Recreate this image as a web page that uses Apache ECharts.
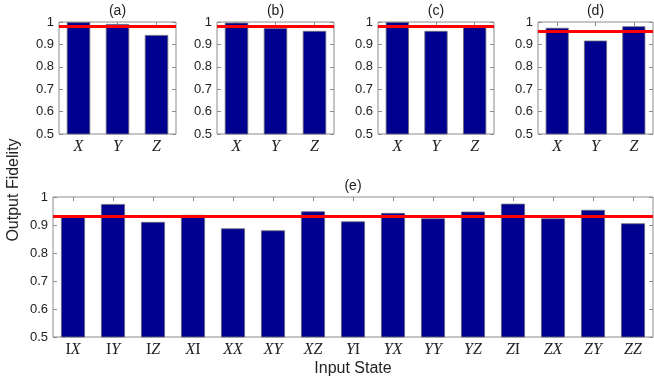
<!DOCTYPE html>
<html>
<head>
    <meta charset="UTF-8">
    <title>Output Fidelity</title>
    <script src="https://cdn.jsdelivr.net/npm/echarts@6/dist/echarts.min.js"></script>
</head>
<body style="margin:0;background:#fff;">
<div id="chart" style="width:654px;height:386px;"></div>
<script type="text/javascript">
    // single-qubit inputs, panels (a)-(d)
    var singleStates = ['X', 'Y', 'Z'];
    var fidelityA = [0.999, 0.991, 0.942];
    var fidelityB = [0.997, 0.973, 0.960];
    var fidelityC = [1.000, 0.960, 0.983];
    var fidelityD = [0.974, 0.917, 0.981];
    // two-qubit inputs, panel (e)
    var pairStates = ['IX', 'IY', 'IZ', 'XI', 'XX', 'XY', 'XZ', 'YI', 'YX', 'YY', 'YZ', 'ZI', 'ZX', 'ZY', 'ZZ'];
    var fidelityE = [0.931, 0.975, 0.911, 0.936, 0.888, 0.881, 0.949, 0.913, 0.943, 0.924, 0.948, 0.976, 0.924, 0.954, 0.906];
    // average fidelity (red line) per panel
    var averages = [0.978, 0.977, 0.981, 0.958, 0.931];
    var panelTitles = ['(a)', '(b)', '(c)', '(d)', '(e)'];
    var yTicks = {min: 0.5, max: 1, step: 0.1};

    var panels = [
        {cats: singleStates, data: fidelityA, box: {left: 59, top: 22, width: 117, height: 112}},
        {cats: singleStates, data: fidelityB, box: {left: 217, top: 22, width: 117, height: 112}},
        {cats: singleStates, data: fidelityC, box: {left: 378, top: 22, width: 116, height: 112}},
        {cats: singleStates, data: fidelityD, box: {left: 538, top: 22, width: 115, height: 112}},
        {cats: pairStates, data: fidelityE, box: {left: 53, top: 197, width: 600, height: 140}}
    ];

    var axisGray = '#8c8c8c';
    var labelRich = {
        i: {fontFamily: 'Liberation Serif', fontStyle: 'italic', fontSize: 16, color: '#222'},
        u: {fontFamily: 'Liberation Serif', fontSize: 16, color: '#222'}
    };
    function stateLabel(s) {
        return s.split('').map(function (c) {
            return c === 'I' ? '{u|I}' : '{i|' + c + '}';
        }).join('');
    }

    var grid = [], xAxis = [], yAxis = [], series = [], graphic = [];
    panels.forEach(function (p, k) {
        grid.push({
            left: p.box.left, top: p.box.top, width: p.box.width, height: p.box.height,
            show: true, borderColor: axisGray, borderWidth: 1, backgroundColor: '#fff'
        });
        xAxis.push({
            type: 'category', gridIndex: k, data: p.cats, position: 'bottom',
            axisLine: {show: false},
            axisTick: {show: false},
            axisLabel: {interval: 0, formatter: stateLabel, rich: labelRich, margin: 5}
        });
        xAxis.push({
            type: 'category', gridIndex: k, data: p.cats, position: 'top',
            axisLine: {show: false},
            axisTick: {show: true, inside: true, length: 4, interval: 0, alignWithLabel: true, lineStyle: {color: axisGray}},
            axisLabel: {show: false}
        });
        yAxis.push({
            type: 'value', gridIndex: k, min: yTicks.min, max: yTicks.max, interval: yTicks.step,
            position: 'left',
            axisLine: {show: false},
            axisTick: {show: true, inside: true, length: 4, lineStyle: {color: axisGray}},
            splitLine: {show: false},
            axisLabel: {fontFamily: 'Liberation Sans', fontSize: 13, color: '#222', margin: 5}
        });
        yAxis.push({
            type: 'value', gridIndex: k, min: yTicks.min, max: yTicks.max, interval: yTicks.step,
            position: 'right',
            axisLine: {show: false},
            axisTick: {show: true, inside: true, length: 4, lineStyle: {color: axisGray}},
            splitLine: {show: false},
            axisLabel: {show: false}
        });
        series.push({
            type: 'bar', xAxisIndex: 2 * k, yAxisIndex: 2 * k, data: p.data,
            barWidth: '60%',
            itemStyle: {color: '#000090', borderColor: '#6a6a7a', borderWidth: 0.8},
            silent: true,
            markLine: {
                silent: true, symbol: 'none', label: {show: false},
                lineStyle: {color: '#ff0000', width: 3, type: 'solid'},
                data: [{yAxis: averages[k]}]
            }
        });
        graphic.push({
            type: 'text',
            x: p.box.left + p.box.width / 2,
            y: p.box.top - 11,
            style: {
                text: panelTitles[k], align: 'center', verticalAlign: 'middle',
                font: '14px "Liberation Sans"', fill: '#222'
            }
        });
    });

    graphic.push({
        type: 'text', x: 14, y: 190, rotation: Math.PI / 2,
        style: {
            text: 'Output Fidelity', align: 'center', verticalAlign: 'middle',
            font: '16px "Liberation Sans"', fill: '#222'
        }
    });
    graphic.push({
        type: 'text', x: 353, y: 369,
        style: {
            text: 'Input State', align: 'center', verticalAlign: 'middle',
            font: '16px "Liberation Sans"', fill: '#222'
        }
    });

    var chart = echarts.init(document.getElementById('chart'), null, {renderer: 'canvas'});
    chart.setOption({
        animation: false,
        backgroundColor: '#fff',
        grid: grid,
        xAxis: xAxis,
        yAxis: yAxis,
        series: series,
        graphic: graphic
    });
</script>
</body>
</html>
